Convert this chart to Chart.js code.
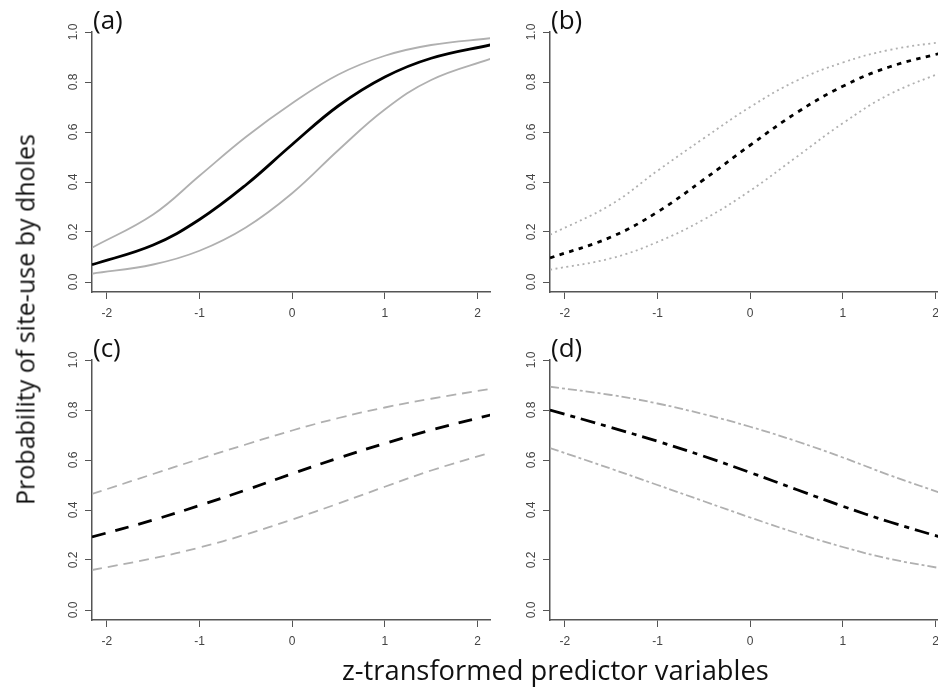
<!DOCTYPE html>
<html>
<head>
<meta charset="utf-8">
<script src="https://cdn.jsdelivr.net/npm/chart.js@4.4.1/dist/chart.umd.min.js"></script>
<style>
    body { margin: 0; width: 938px; height: 694px; overflow: hidden; background: #fff; position: relative; font-family: "Open Sans", sans-serif; }
    canvas { position: absolute; }
    .tag { position: absolute; font-size: 26px; line-height: 26px; color: #111; white-space: nowrap; }
    #ytitle { position: absolute; left: -185px; top: 307px; width: 420px; height: 25px; font-size: 25px; line-height: 25px; text-align: center; transform: rotate(-90deg); color: #111; white-space: nowrap; }
    #xtitle { position: absolute; left: 342px; top: 656px; font-size: 27.3px; line-height: 27px; color: #111; white-space: nowrap; }
</style>
</head>
<body>

<canvas id="chartA" width="460" height="330" style="left:40px; top:0px"></canvas>
<canvas id="chartB" width="460" height="330" style="left:498px; top:0px"></canvas>
<canvas id="chartC" width="460" height="330" style="left:40px; top:328px"></canvas>
<canvas id="chartD" width="460" height="330" style="left:498px; top:328px"></canvas>

<div class="tag" style="left:93px; top:6px">(a)</div>
<div class="tag" style="left:551px; top:6px">(b)</div>
<div class="tag" style="left:93px; top:334px">(c)</div>
<div class="tag" style="left:551px; top:334px">(d)</div>

<div id="ytitle">Probability of site-use by dholes</div>
<div id="xtitle">z-transformed predictor variables</div>

<script>
// z values the curves were read at
var zValues = [-2.16, -1.5, -1, -0.5, 0, 0.5, 1, 1.5, 2.16]
var xTicks = [-2, -1, 0, 1, 2]
var yTicks = [0, 0.2, 0.4, 0.6, 0.8, 1.0]

// (a)
var meanA  = [0.069, 0.148, 0.250, 0.388, 0.550, 0.705, 0.820, 0.895, 0.950]
var upperA = [0.137, 0.270, 0.425, 0.580, 0.715, 0.830, 0.905, 0.948, 0.976]
var lowerA = [0.033, 0.070, 0.125, 0.218, 0.355, 0.528, 0.690, 0.808, 0.895]

// (b)
var meanB  = [0.096, 0.180, 0.280, 0.410, 0.547, 0.677, 0.783, 0.860, 0.925]
var upperB = [0.189, 0.310, 0.445, 0.575, 0.700, 0.805, 0.878, 0.928, 0.965]
var lowerB = [0.049, 0.095, 0.160, 0.250, 0.365, 0.500, 0.635, 0.750, 0.852]

// (c)
var meanC  = [0.292, 0.360, 0.418, 0.480, 0.545, 0.608, 0.666, 0.720, 0.782]
var upperC = [0.464, 0.544, 0.604, 0.662, 0.718, 0.768, 0.810, 0.845, 0.886]
var lowerC = [0.160, 0.207, 0.250, 0.302, 0.362, 0.426, 0.493, 0.558, 0.632]

// (d)
var meanD  = [0.800, 0.730, 0.675, 0.615, 0.550, 0.482, 0.415, 0.353, 0.280]
var upperD = [0.893, 0.860, 0.826, 0.783, 0.733, 0.675, 0.610, 0.540, 0.455]
var lowerD = [0.648, 0.565, 0.500, 0.435, 0.370, 0.308, 0.252, 0.205, 0.160]

var ciColor = '#b0b0b0'
var axisColor = '#555'

function toPoints(values) {
    return values.map(function (v, i) { return { x: zValues[i], y: v } })
}

function makePanel(id, mean, upper, lower, meanDash, ciDash) {
    var ctx = document.getElementById(id)
    return new Chart(ctx, {
        type: 'line',
        data: {
            datasets: [
                { data: toPoints(upper), borderColor: ciColor, borderWidth: 1.8, borderDash: ciDash },
                { data: toPoints(lower), borderColor: ciColor, borderWidth: 1.8, borderDash: ciDash },
                { data: toPoints(mean), borderColor: '#000', borderWidth: 2.8, borderDash: meanDash }
            ]
        },
        options: {
            responsive: false,
            animation: false,
            devicePixelRatio: 1,
            layout: { padding: { top: 32, right: 10, bottom: 10, left: 0 } },
            elements: {
                point: { radius: 0 },
                line: { tension: 0.4, fill: false }
            },
            plugins: {
                legend: { display: false },
                tooltip: { enabled: false }
            },
            scales: {
                x: {
                    type: 'linear',
                    min: -2.16,
                    max: 2.135,
                    afterBuildTicks: function (s) { s.ticks = xTicks.map(function (v) { return { value: v } }) },
                    afterFit: function (s) { s.height = 28 },
                    grid: { drawOnChartArea: false, drawTicks: true, tickLength: 7, color: axisColor },
                    border: { color: axisColor, width: 1.5 },
                    ticks: {
                        font: { family: 'Liberation Sans', size: 12 },
                        color: '#444',
                        padding: 7,
                        maxRotation: 0,
                        callback: function (v) { return String(v) }
                    }
                },
                y: {
                    min: -0.04,
                    max: 1.0,
                    afterBuildTicks: function (s) { s.ticks = yTicks.map(function (v) { return { value: v } }) },
                    afterFit: function (s) { s.width = 52 },
                    grid: { drawOnChartArea: false, drawTicks: true, tickLength: 7, color: axisColor },
                    border: { color: axisColor, width: 1.5 },
                    ticks: {
                        font: { family: 'Liberation Sans', size: 12 },
                        color: '#444',
                        padding: 3,
                        minRotation: 90,
                        maxRotation: 90,
                        crossAlign: 'center',
                        callback: function (v) { return v.toFixed(1) }
                    }
                }
            }
        }
    })
}

makePanel('chartA', meanA, upperA, lowerA, [], [])
makePanel('chartB', meanB, upperB, lowerB, [4.5, 5.5], [2, 3.5])
makePanel('chartC', meanC, upperC, lowerC, [14, 10], [10, 6])
makePanel('chartD', meanD, upperD, lowerD, [15, 6, 5, 6], [9, 3, 3, 3])
</script>
</body>
</html>
